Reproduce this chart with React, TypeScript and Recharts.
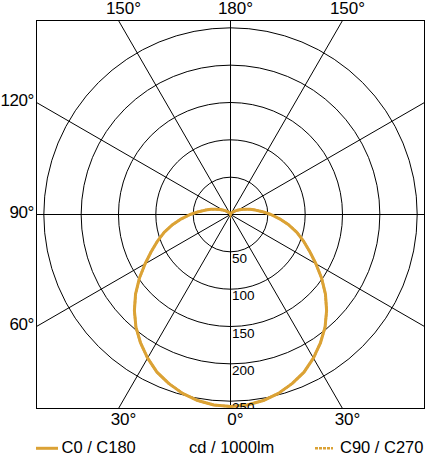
import { RadarChart, Radar, PolarGrid, PolarAngleAxis, PolarRadiusAxis } from 'recharts'

// gamma angles (deg) of the measured half-plane, 0 = straight down
const gammaAngles = [0, 5, 10, 15, 20, 25, 30, 35, 40, 45, 50, 55, 60, 65, 70, 75, 80, 85, 90, 95, 100, 105, 110, 115, 120, 125, 130, 135, 140, 145, 150, 155, 160, 165, 170, 175, 180]

// intensities in cd / 1000lm
const c0c180 = [257, 256, 253, 248, 241, 233, 222, 210, 197, 182, 166, 149, 132, 117, 104, 92, 79, 66, 54, 43, 34, 27, 21, 16, 12, 9, 7, 5, 4, 3, 2, 2, 1, 1, 0, 0, 0]
const c90c270 = [257, 256, 253, 248, 241, 233, 222, 210, 197, 182, 166, 149, 132, 117, 104, 92, 79, 66, 54, 43, 34, 27, 21, 16, 12, 9, 7, 5, 4, 3, 2, 2, 1, 1, 0, 0, 0]

const radiusTicks = [50, 100, 150, 200, 250]
const spokeAngles = [0, 30, 60, 90, 120, 150, 180, 210, 240, 270, 300, 330]

// signed gamma of the labelled spokes (negative = left side)
const topLabels = [-150, 180, 150]
const leftLabels = [-120, -90, -60]
const bottomLabels = [-30, 0, 30]

const ORANGE = '#dba235'
const FONT = '"Liberation Sans", Arial, Helvetica, sans-serif'

// frame / chart geometry
const CX = 230.5
const CY = 214.5
const HALF = 194
const FRAME_X = 36
const FRAME_Y = 20
const SIZE = 600
const R_MAX = 400
const OUTER = 298.7

// full circle: C0 side (0..180) then C180 side coming back
const table = [
    ...gammaAngles.map((g, i) => ({ dir: g, c0: c0c180[i], c90: c90c270[i] })),
    ...gammaAngles.slice(1, -1).reverse().map((g) => {
        const i = gammaAngles.indexOf(g)
        return { dir: 360 - g, c0: c0c180[i], c90: c90c270[i] }
    }),
]

// where a spoke meets the square frame
function frameHit(g: number) {
    const rad = (g * Math.PI) / 180
    const s = Math.sin(rad)
    const c = Math.cos(rad)
    const t = HALF / Math.max(Math.abs(s), Math.abs(c))
    return { x: CX + t * s, y: CY + t * c }
}

const RadiusTick = (props: any) => {
    const { x, y, payload } = props
    return (
        <text x={x + 1.5} y={y + 11} fontSize={13.5} fontFamily={FONT} fill="#000" textAnchor="start">
            {payload.value}
        </text>
    )
}

export default function App() {
    return (
        <div style={{ position: 'absolute', left: 0, top: 0, width: 425, height: 454, overflow: 'hidden', background: '#fff', fontFamily: FONT }}>
            <div style={{ position: 'absolute', left: FRAME_X, top: FRAME_Y, width: 389, height: 389, overflow: 'hidden' }}>
                <div style={{ position: 'absolute', left: CX - SIZE / 2 - 0.5 - FRAME_X, top: CY - SIZE / 2 - 0.5 - FRAME_Y }}>
                    <RadarChart
                        width={SIZE}
                        height={SIZE}
                        data={table}
                        cx={SIZE / 2 + 0.5}
                        cy={SIZE / 2 + 0.5}
                        outerRadius={OUTER}
                        startAngle={-90}
                        endAngle={270}
                        margin={{ top: 0, right: 0, bottom: 0, left: 0 }}
                    >
                        <PolarGrid gridType="circle" polarAngles={spokeAngles} stroke="#000" strokeWidth={1} strokeOpacity={1} />
                        <PolarAngleAxis dataKey="dir" type="number" domain={[0, 360]} tick={false} axisLine={false} tickLine={false} />
                        <PolarRadiusAxis
                            angle={-90}
                            type="number"
                            domain={[0, R_MAX]}
                            ticks={radiusTicks}
                            tick={(p: any) => <RadiusTick {...p} />}
                            axisLine={false}
                            tickLine={false}
                        />
                        <Radar dataKey="c90" stroke={ORANGE} strokeWidth={2.5} strokeDasharray="3 1" fill="none" fillOpacity={0} dot={false} isAnimationActive={false} />
                        <Radar dataKey="c0" stroke={ORANGE} strokeWidth={3} strokeLinejoin="round" fill="none" fillOpacity={0} dot={false} isAnimationActive={false} />
                    </RadarChart>
                </div>
            </div>
            <svg width={425} height={454} style={{ position: 'absolute', left: 0, top: 0 }}>
                <rect x={FRAME_X + 0.5} y={FRAME_Y + 0.5} width={388} height={388} fill="none" stroke="#000" strokeWidth={1} />
                {topLabels.map((g, i) => (
                    <text key={`t${i}`} x={frameHit(g).x + 5} y={14} fontSize={17} textAnchor="middle" fill="#000">
                        {Math.abs(g)}°
                    </text>
                ))}
                {bottomLabels.map((g, i) => (
                    <text key={`b${i}`} x={frameHit(g).x + 5} y={424.5} fontSize={17} textAnchor="middle" fill="#000">
                        {Math.abs(g)}°
                    </text>
                ))}
                {leftLabels.map((g, i) => (
                    <text key={`l${i}`} x={34} y={frameHit(g).y + 3.6} fontSize={17} letterSpacing={-0.4} textAnchor="end" fill="#000">
                        {Math.abs(g)}°
                    </text>
                ))}
                <line x1={36} x2={58} y1={448.3} y2={448.3} stroke={ORANGE} strokeWidth={3} />
                <text x={61.5} y={453.3} fontSize={16.5} fill="#000">C0 / C180</text>
                <text x={189} y={453.3} fontSize={16.5} fill="#000">cd / 1000lm</text>
                <line x1={315} x2={333} y1={448.3} y2={448.3} stroke={ORANGE} strokeWidth={2.5} strokeDasharray="3 1" />
                <text x={340} y={453.3} fontSize={16.5} fill="#000">C90 / C270</text>
            </svg>
        </div>
    )
}
